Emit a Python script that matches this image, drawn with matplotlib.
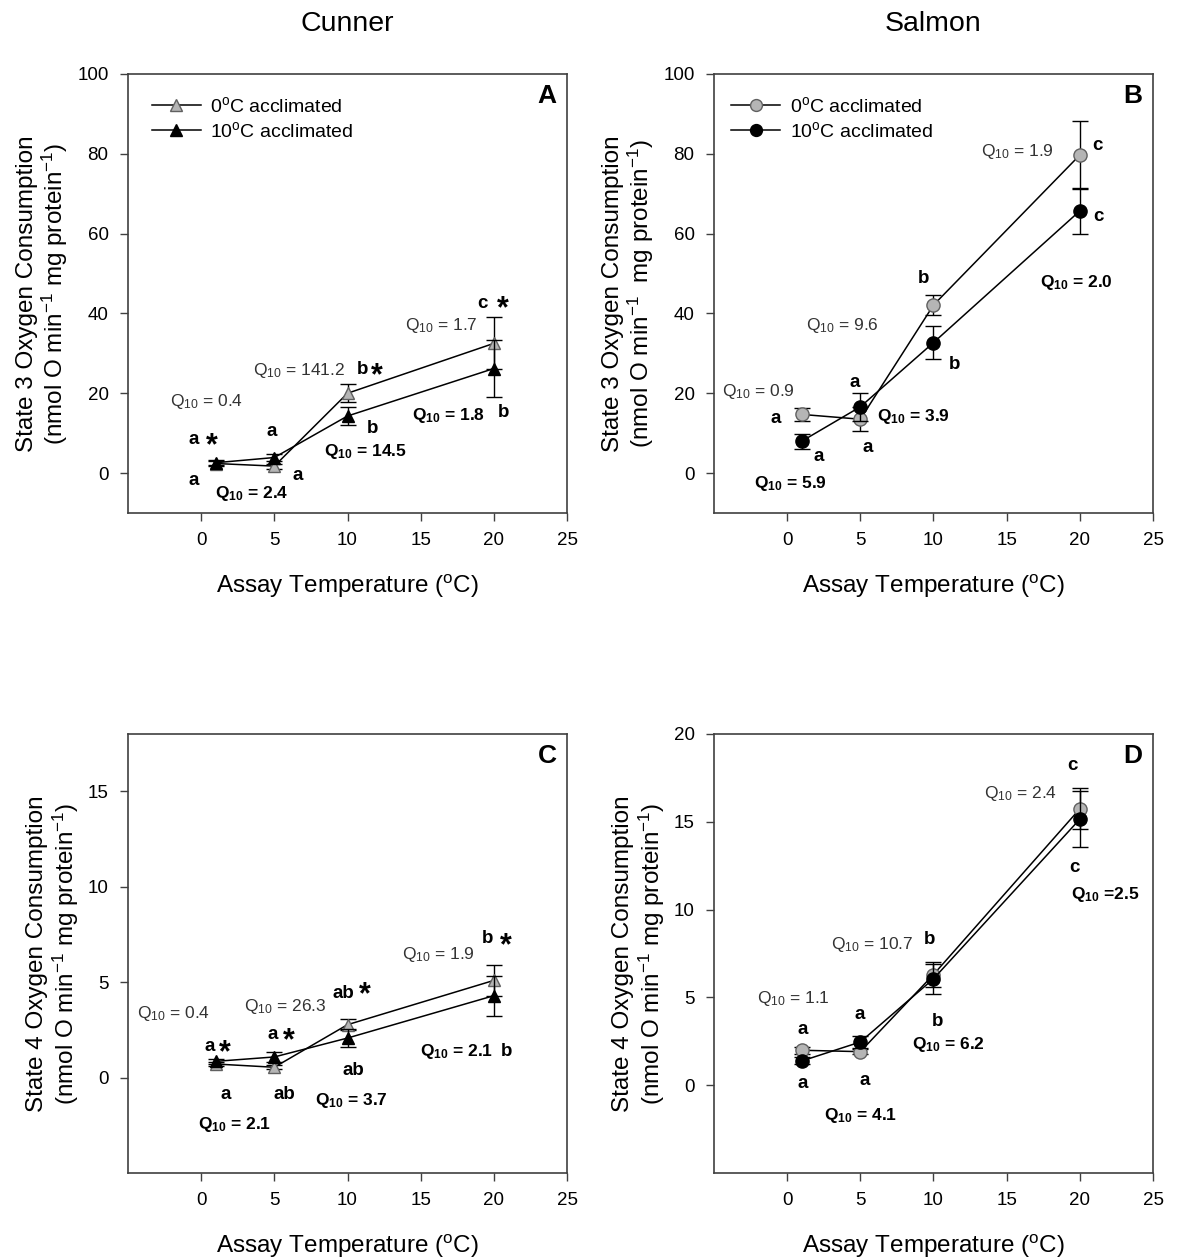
import matplotlib
matplotlib.use("Agg")
import matplotlib.pyplot as plt
from matplotlib.lines import Line2D
from matplotlib import transforms

plt.rcParams['font.family'] = ['Liberation Sans', 'DejaVu Sans']
plt.rcParams['mathtext.default'] = 'regular'

# ---------------- data ----------------
temps = [1, 5, 10, 20]

# Panel A: Cunner, State 3
a_cold = [2.4, 1.75, 20.0, 32.5]
a_cold_err = [0.6, 0.6, 2.2, 6.5]
a_warm = [2.6, 3.9, 14.3, 26.2]
a_warm_err = [0.6, 0.8, 2.3, 7.1]

# Panel B: Salmon, State 3
b_cold = [14.7, 13.5, 42.1, 79.7]
b_cold_err = [1.7, 3.0, 2.6, 8.5]
b_warm = [8.0, 16.6, 32.7, 65.7]
b_warm_err = [1.9, 3.5, 4.2, 5.8]

# Panel C: Cunner, State 4
c_cold = [0.71, 0.54, 2.77, 5.09]
c_cold_err = [0.12, 0.1, 0.3, 0.8]
c_warm = [0.85, 1.08, 2.07, 4.29]
c_warm_err = [0.12, 0.24, 0.45, 1.05]

# Panel D: Salmon, State 4
d_cold = [1.99, 1.91, 6.3, 15.74]
d_cold_err = [0.2, 0.15, 0.7, 1.17]
d_warm = [1.38, 2.46, 6.06, 15.15]
d_warm_err = [0.2, 0.35, 0.85, 1.6]

legend_labels = ['0$^{o}$C acclimated', '10$^{o}$C acclimated']
col_titles = ['Cunner', 'Salmon']
xticks = [0, 5, 10, 15, 20, 25]

# annotations: (x, y, text, kind)  kind: g = grey Q10, q = bold Q10, l = letter, s = star
ann_A = [
    (0.4, 17.9, 'Q$_{10}$ = 0.4', 'g'), (-0.5, 8.4, 'a', 'l'), (0.7, 8.0, '*', 's'),
    (-0.5, -1.9, 'a', 'l'), (3.45, -5.1, 'Q$_{10}$ = 2.4', 'q'),
    (4.8, 10.4, 'a', 'l'), (6.6, -0.5, 'a', 'l'),
    (6.7, 25.8, 'Q$_{10}$ = 141.2', 'g'), (11.05, 26.0, 'b', 'l'), (12.0, 25.6, '*', 's'),
    (11.7, 11.2, 'b', 'l'), (11.2, 5.3, 'Q$_{10}$ = 14.5', 'q'),
    (19.2, 42.5, 'c', 'l'), (20.6, 42.3, '*', 's'),
    (16.4, 37.1, 'Q$_{10}$ = 1.7', 'g'), (16.9, 14.5, 'Q$_{10}$ = 1.8', 'q'),
    (20.65, 15.1, 'b', 'l'),
]
ann_B = [
    (-1.95, 20.4, 'Q$_{10}$ = 0.9', 'g'), (-0.8, 13.7, 'a', 'l'), (2.15, 4.1, 'a', 'l'),
    (0.2, -2.6, 'Q$_{10}$ = 5.9', 'q'), (4.6, 22.6, 'a', 'l'), (5.5, 6.3, 'a', 'l'),
    (3.75, 37.1, 'Q$_{10}$ = 9.6', 'g'), (8.6, 14.3, 'Q$_{10}$ = 3.9', 'q'),
    (9.35, 48.8, 'b', 'l'), (11.45, 27.1, 'b', 'l'),
    (15.75, 80.5, 'Q$_{10}$ = 1.9', 'g'), (21.2, 82.2, 'c', 'l'), (21.3, 64.4, 'c', 'l'),
    (19.75, 47.7, 'Q$_{10}$ = 2.0', 'q'),
]
ann_C = [
    (-1.9, 3.38, 'Q$_{10}$ = 0.4', 'g'), (0.6, 1.64, 'a', 'l'), (1.65, 1.55, '*', 's'),
    (1.7, -0.89, 'a', 'l'), (2.3, -2.46, 'Q$_{10}$ = 2.1', 'q'),
    (5.75, 3.73, 'Q$_{10}$ = 26.3', 'g'), (4.9, 2.25, 'a', 'l'), (6.0, 2.15, '*', 's'),
    (5.7, -0.89, 'ab', 'l'), (9.75, 4.39, 'ab', 'l'), (11.15, 4.55, '*', 's'),
    (10.4, 0.38, 'ab', 'l'), (10.3, -1.19, 'Q$_{10}$ = 3.7', 'q'),
    (16.25, 6.47, 'Q$_{10}$ = 1.9', 'g'), (19.6, 7.27, 'b', 'l'), (20.8, 7.15, '*', 's'),
    (17.45, 1.38, 'Q$_{10}$ = 2.1', 'q'), (20.85, 1.38, 'b', 'l'),
]
ann_D = [
    (0.45, 4.92, 'Q$_{10}$ = 1.1', 'g'), (1.05, 3.18, 'a', 'l'), (1.05, 0.1, 'a', 'l'),
    (4.93, 4.0, 'a', 'l'), (5.27, 0.25, 'a', 'l'), (5.0, -1.74, 'Q$_{10}$ = 4.1', 'q'),
    (5.8, 8.0, 'Q$_{10}$ = 10.7', 'g'), (9.75, 8.3, 'b', 'l'), (10.27, 3.65, 'b', 'l'),
    (11.05, 2.33, 'Q$_{10}$ = 6.2', 'q'),
    (15.95, 16.6, 'Q$_{10}$ = 2.4', 'g'), (19.5, 18.2, 'c', 'l'), (19.6, 12.37, 'c', 'l'),
    (21.7, 10.85, 'Q$_{10}$ =2.5', 'q'),
]

# ---------------- figure ----------------
W, H = 1178, 1260
fig = plt.figure(figsize=(W / 100, H / 100), dpi=100)

def frac_box(l, t, r, b):
    return [l / W, 1 - b / H, (r - l) / W, (b - t) / H]

panels = [
    dict(box=frac_box(128, 74, 567, 513), cold=a_cold, ce=a_cold_err, warm=a_warm, we=a_warm_err,
         marker='^', ylim=(-10, 100), yticks=[0, 20, 40, 60, 80, 100], letter='A',
         ylabel='State 3 Oxygen Consumption\n(nmol O min$^{-1}$ mg protein$^{-1}$)', ann=ann_A,
         legend=(0.015, 0.99), title=col_titles[0]),
    dict(box=frac_box(714, 74, 1153, 513), cold=b_cold, ce=b_cold_err, warm=b_warm, we=b_warm_err,
         marker='o', ylim=(-10, 100), yticks=[0, 20, 40, 60, 80, 100], letter='B',
         ylabel='State 3 Oxygen Consumption\n(nmol O min$^{-1}$  mg protein$^{-1}$)', ann=ann_B,
         legend=(0.0, 0.99), title=col_titles[1]),
    dict(box=frac_box(128, 734, 567, 1173), cold=c_cold, ce=c_cold_err, warm=c_warm, we=c_warm_err,
         marker='^', ylim=(-5, 18), yticks=[0, 5, 10, 15], letter='C',
         ylabel='State 4 Oxygen Consumption\n(nmol O min$^{-1}$ mg protein$^{-1}$)', ann=ann_C,
         legend=None, title=None),
    dict(box=frac_box(714, 734, 1153, 1173), cold=d_cold, ce=d_cold_err, warm=d_warm, we=d_warm_err,
         marker='o', ylim=(-5, 20), yticks=[0, 5, 10, 15, 20], letter='D',
         ylabel='State 4 Oxygen Consumption\n(nmol O min$^{-1}$ mg protein$^{-1}$)', ann=ann_D,
         legend=None, title=None),
]

GREY_FILL = '#b5b5b5'
GREY_EDGE = '#606060'

for p in panels:
    ax = fig.add_axes(p['box'])
    ms = 9 if p['marker'] == '^' else 9.5
    ax.errorbar(temps, p['cold'], yerr=p['ce'], color='black', lw=1.1, elinewidth=1,
                capsize=6, capthick=1, marker=p['marker'], ms=ms, mfc=GREY_FILL, mec=GREY_EDGE,
                mew=1, zorder=3)
    ax.errorbar(temps, p['warm'], yerr=p['we'], color='black', lw=1.1, elinewidth=1,
                capsize=6, capthick=1, marker=p['marker'], ms=ms, mfc='black', mec='black',
                mew=1, zorder=4)
    ax.set_xlim(-5, 25)
    ax.set_ylim(*p['ylim'])
    ax.set_xticks(xticks)
    ax.set_yticks(p['yticks'])
    ax.tick_params(direction='out', length=6, width=1, labelsize=13.5, pad=8,
                   color='#404040')
    for s in ax.spines.values():
        s.set_color('#404040')
        s.set_linewidth(1.2)
    ax.set_xlabel('Assay Temperature ($^{o}$C)', fontsize=17.5, labelpad=17)
    ax.set_ylabel(p['ylabel'], fontsize=17.5, labelpad=5, linespacing=1.1)
    ax.text(0.955, 0.95, p['letter'], transform=ax.transAxes, fontsize=19,
            fontweight='bold', ha='center', va='center')
    if p['title']:
        ax.set_title(p['title'], fontsize=20.5, pad=31)
    star_tr = transforms.offset_copy(ax.transData, fig=fig, x=0, y=-5, units='dots')
    for (x, y, s, k) in p['ann']:
        if k == 'g':
            ax.text(x, y, s, fontsize=12.5, color='#333333', ha='center', va='center')
        elif k == 'q':
            ax.text(x, y, s, fontsize=12.5, fontweight='bold', ha='center', va='center')
        elif k == 'l':
            ax.text(x, y, s, fontsize=13.5, fontweight='bold', ha='center', va='center')
        else:
            ax.text(x, y, s, fontsize=22, fontweight='bold', ha='center', va='center',
                    transform=star_tr)
    if p['legend']:
        handles = [
            Line2D([], [], color='black', lw=1.1, marker=p['marker'], ms=ms * 0.9,
                   mfc=GREY_FILL, mec=GREY_EDGE),
            Line2D([], [], color='black', lw=1.1, marker=p['marker'], ms=ms * 0.9,
                   mfc='black', mec='black'),
        ]
        ax.legend(handles, legend_labels, loc='upper left', frameon=False, fontsize=14,
                  handlelength=2.5, handletextpad=0.5, labelspacing=0.25,
                  bbox_to_anchor=p['legend'], borderaxespad=0.5)

fig.savefig('out.png', dpi=100)
